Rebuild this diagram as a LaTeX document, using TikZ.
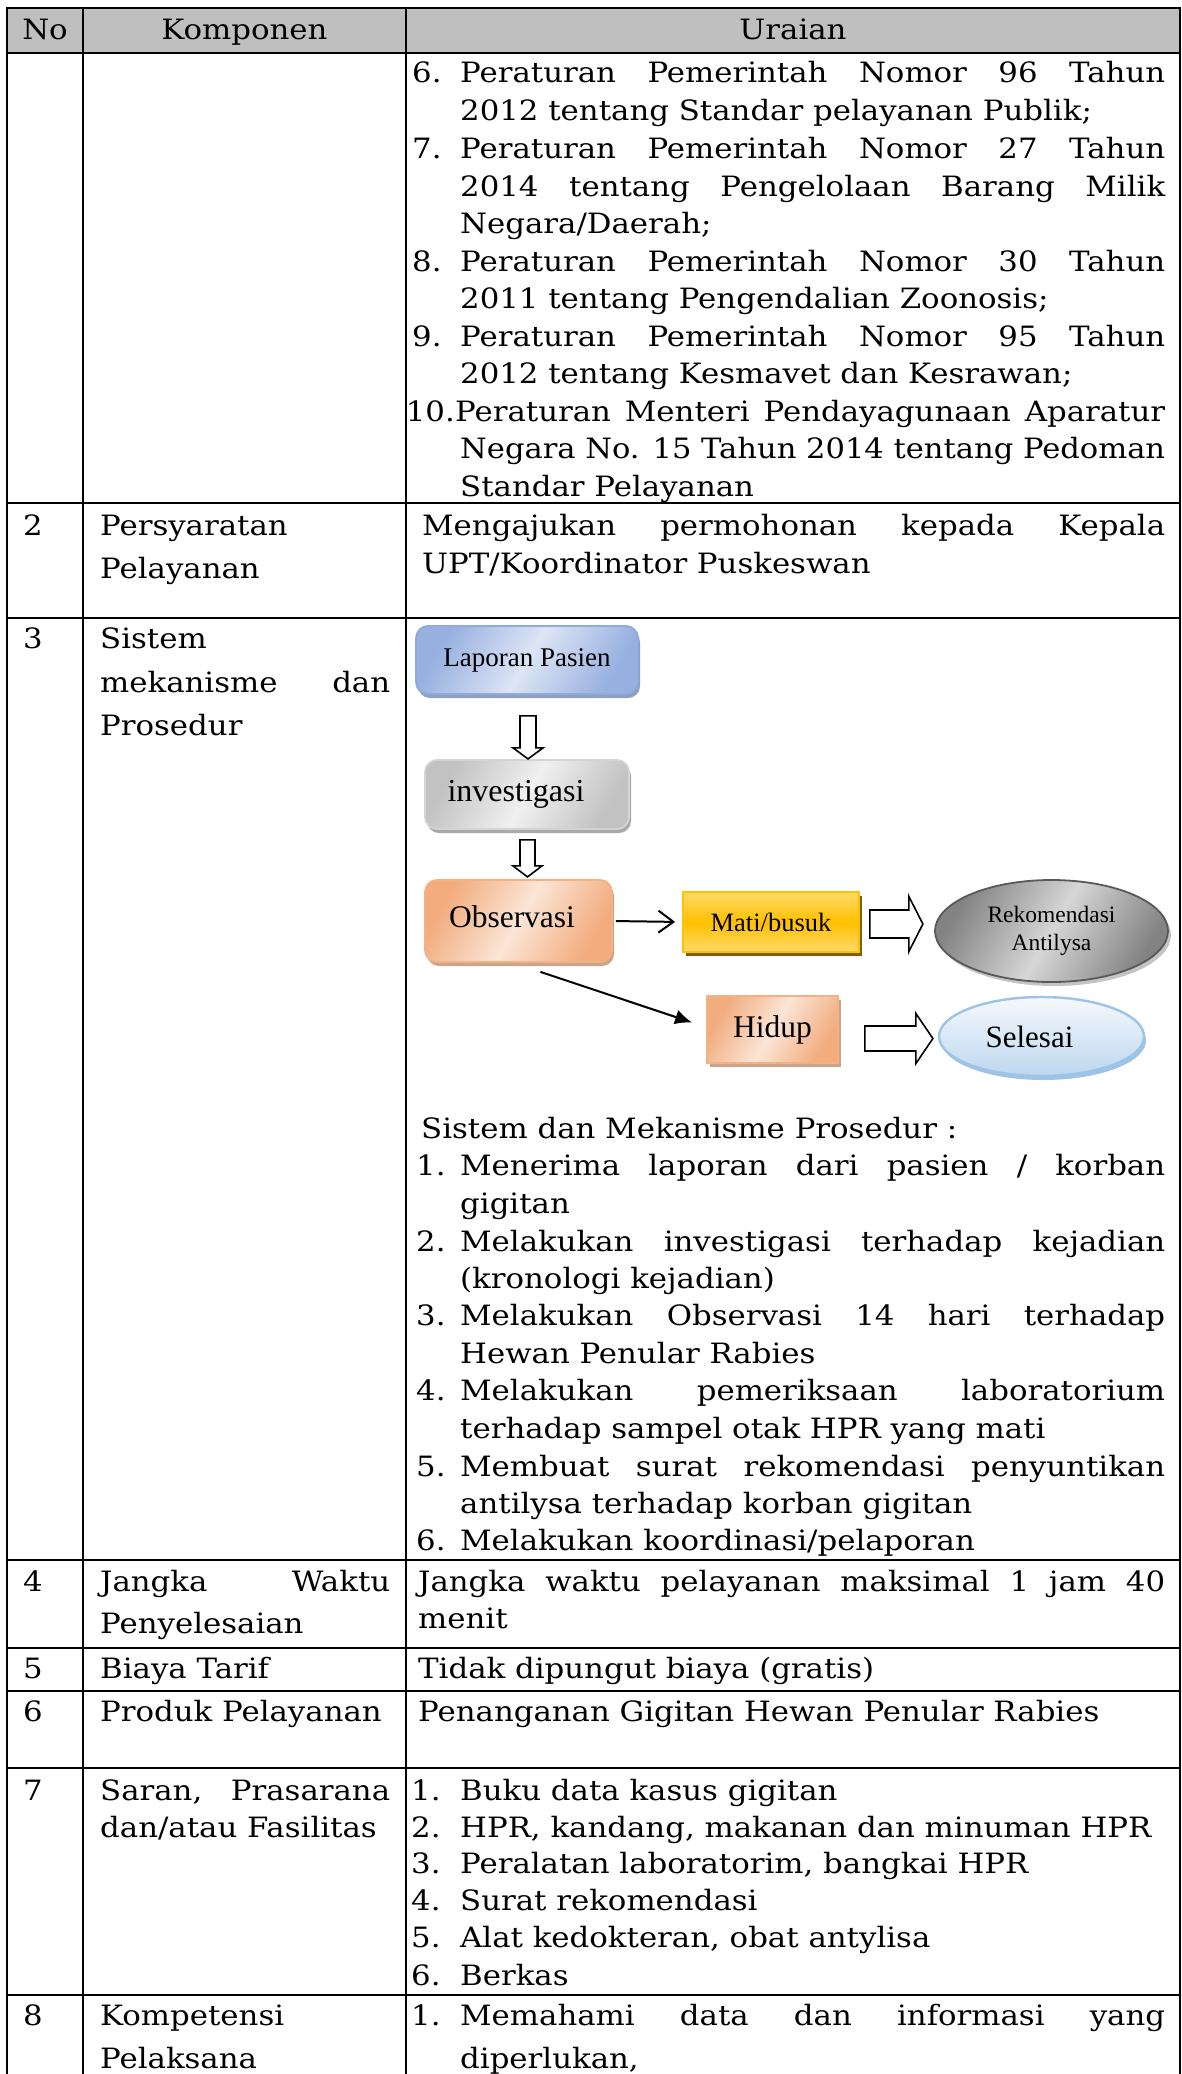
\documentclass[tikz,border=0pt]{standalone}
\usepackage{fontspec}
\usepackage{graphicx}
\usetikzlibrary{shapes.geometric,shadows,arrows.meta,calc}
\newfontfamily\bodyfont{DejaVu Serif}[FakeStretch=1.1]
\newfontfamily\boxfont{Liberation Serif}

% justified line of a given width (squeezed if the words do not fit)
\newsavebox\linebox
\newcommand\just[2]{\sbox\linebox{#2}\ifdim\wd\linebox>#1\relax\resizebox{#1}{\height}{\usebox\linebox}\else\makebox[#1][s]{#2}\fi}

\definecolor{headgray}{HTML}{BFBFBF}
\definecolor{lapedge}{HTML}{8FAADC}
\definecolor{lapdark}{HTML}{97B0E0}
\definecolor{laplight}{HTML}{DDE5F5}
\definecolor{lapshadow}{HTML}{8EA0C0}
\definecolor{invedge}{HTML}{D4D4D4}
\definecolor{invdark}{HTML}{C2C2C2}
\definecolor{invlight}{HTML}{F0F0F0}
\definecolor{invshadow}{HTML}{A9A9A9}
\definecolor{oredge}{HTML}{F4B183}
\definecolor{ordark}{HTML}{F2AC7E}
\definecolor{orlight}{HTML}{FBE5D6}
\definecolor{orshadow}{HTML}{C8A58C}
\definecolor{goldedge}{HTML}{FFC000}
\definecolor{goldtop}{HTML}{FFDA6A}
\definecolor{goldmid}{HTML}{FFC000}
\definecolor{goldshadow}{HTML}{7F6000}
\definecolor{rekedge}{HTML}{595959}
\definecolor{rekdark}{HTML}{838383}
\definecolor{reklight}{HTML}{D6D6D6}
\definecolor{rekshadow}{HTML}{C4C4C4}
\definecolor{seledge}{HTML}{9DC3E6}
\definecolor{seltop}{HTML}{F5F9FD}
\definecolor{selbottom}{HTML}{BDD7EE}

\tikzset{
  txt/.style={anchor=base west,inner sep=0pt,font=\bodyfont\fontsize{28}{34}\selectfont},
  ctxt/.style={txt,anchor=base},
  rtxt/.style={txt,anchor=base east},
  rule/.style={line width=2.8pt},
  flow/.style={draw,line width=1.8pt,inner sep=0pt,align=center},
  hollow/.style={draw,line width=1.6pt,fill=white,line join=miter},
  conn/.style={line width=2pt},
  pics/darrow/.style n args={4}{code={
    \draw[hollow] (-#1,0) -- (#1,0) -- (#1,#2) -- (#3,#2) -- (0,#4) -- (-#3,#2) -- (-#1,#2) -- cycle;}},
  pics/rarrow/.style n args={4}{code={
    \draw[hollow] (0,-#1) -- (#2,-#1) -- (#2,-#3) -- (#4,0) -- (#2,#3) -- (#2,#1) -- (0,#1) -- cycle;}}
}

\begin{document}
\begin{tikzpicture}[x=1pt,y=-1pt]
\useasboundingbox (0,0) rectangle (1182,2074);

% table frame and rules
\fill[headgray] (7,8) rectangle (1180,53);
\draw[rule] (7,2074) -- (7,8) -- (1180,8) -- (1180,2074);
\draw[rule] (83,8) -- (83,2074);
\draw[rule] (406,8) -- (406,2074);
\foreach \y in {53,503,618,1560,1648,1691,1768,1995}
  \draw[rule] (7,\y) -- (1180,\y);

% header
\node[ctxt] (hno) at (45,40) {No};
\node[ctxt] (hkomp) at (244.5,40) {Komponen};
\node[ctxt] (hur) at (793,40) {Uraian};

% row 1 (continued list of regulations)
\node[txt] (r1n6) at (412,83) {6.};
\node[txt] (r1a) at (460,83) {\just{705pt}{Peraturan Pemerintah Nomor 96 Tahun}};
\node[txt] (r1b) at (460,121) {2012 tentang Standar pelayanan Publik;};
\node[txt] (r1n7) at (412,158) {7.};
\node[txt] (r1c) at (460,158) {\just{705pt}{Peraturan Pemerintah Nomor 27 Tahun}};
\node[txt] (r1d) at (460,196) {\just{705pt}{2014 tentang Pengelolaan Barang Milik}};
\node[txt] (r1e) at (460,233) {Negara/Daerah;};
\node[txt] (r1n8) at (412,271) {8.};
\node[txt] (r1f) at (460,271) {\just{705pt}{Peraturan Pemerintah Nomor 30 Tahun}};
\node[txt] (r1g) at (460,308) {2011 tentang Pengendalian Zoonosis;};
\node[txt] (r1n9) at (412,346) {9.};
\node[txt] (r1h) at (460,346) {\just{705pt}{Peraturan Pemerintah Nomor 95 Tahun}};
\node[txt] (r1i) at (460,383) {2012 tentang Kesmavet dan Kesrawan;};
\node[rtxt] (r1n10) at (455,421) {10.};
\node[txt] (r1j) at (455,421) {\just{710pt}{Peraturan Menteri Pendayagunaan Aparatur}};
\node[txt] (r1k) at (460,458) {\just{705pt}{Negara No. 15 Tahun 2014 tentang Pedoman}};
\node[txt] (r1l) at (460,496) {Standar Pelayanan};

% row 2
\node[txt] (r2no) at (23,535) {2};
\node[txt] (r2ka) at (100,535) {Persyaratan};
\node[txt] (r2kb) at (100,578) {Pelayanan};
\node[txt] (r2a) at (422,535) {\just{743pt}{Mengajukan permohonan kepada Kepala}};
\node[txt] (r2b) at (422,573) {UPT/Koordinator Puskeswan};

% row 3
\node[txt] (r3no) at (23,648) {3};
\node[txt] (r3ka) at (100,648) {Sistem};
\node[txt] (r3kb) at (100,692) {\just{290pt}{mekanisme dan}};
\node[txt] (r3kc) at (100,735) {Prosedur};

% flowchart
\node[flow, rounded corners=12pt, draw=lapedge, left color=lapdark, right color=lapdark,
      middle color=laplight, shading angle=60,
      general shadow={fill=lapshadow, shadow xshift=2pt, shadow yshift=-4pt},
      minimum width=222pt, minimum height=68pt,
      font=\boxfont\fontsize{27}{30}\selectfont] (lap) at (527,660) {Laporan Pasien};
\node[flow, rounded corners=12pt, draw=invedge, left color=invdark, right color=invdark,
      middle color=invlight, shading angle=60,
      general shadow={fill=invshadow, shadow xshift=2pt, shadow yshift=-4pt},
      minimum width=204pt, minimum height=69pt,
      font=\boxfont\fontsize{32}{34}\selectfont] (inv) at (527,794.5) {\hspace*{-22pt}investigasi};
\node[flow, rounded corners=12pt, draw=oredge, left color=ordark, right color=ordark,
      middle color=orlight, shading angle=60,
      general shadow={fill=orshadow, shadow xshift=2pt, shadow yshift=-4pt},
      minimum width=187pt, minimum height=82pt,
      font=\boxfont\fontsize{31.5}{34}\selectfont] (obs) at (518.5,921) {\hspace*{-13pt}\raisebox{9pt}{Observasi}};
\node[flow, draw=goldedge, top color=goldtop, bottom color=goldtop, middle color=goldmid,
      general shadow={fill=goldshadow, shadow xshift=3pt, shadow yshift=-4pt},
      minimum width=176pt, minimum height=60pt,
      font=\boxfont\fontsize{26.5}{30}\selectfont] (mati) at (771,922) {Mati/busuk};
\node[flow, draw=oredge, left color=ordark, right color=ordark, middle color=orlight,
      shading angle=60,
      general shadow={fill=orshadow, shadow xshift=3pt, shadow yshift=-4pt},
      minimum width=131pt, minimum height=67pt,
      font=\boxfont\fontsize{31.5}{34}\selectfont] (hid) at (772.5,1029.5) {Hidup};
\node[flow, ellipse, draw=rekedge, left color=rekdark, right color=rekdark,
      middle color=reklight, shading angle=60,
      general shadow={fill=rekshadow, shadow xshift=3pt, shadow yshift=-4pt},
      minimum width=233pt, minimum height=102pt,
      font=\boxfont\fontsize{23.5}{28}\selectfont] (rek) at (1051.5,931) {Rekomendasi\\Antilysa};
\node[flow, ellipse, draw=seledge, line width=2.4pt, top color=seltop, bottom color=selbottom,
      general shadow={fill=seledge, shadow xshift=2pt, shadow yshift=-4pt},
      minimum width=205pt, minimum height=79pt,
      font=\boxfont\fontsize{31}{34}\selectfont] (sel) at (1041.5,1036.5) {\hspace*{-24pt}Selesai};

% connectors
\pic at ($(lap.south)+(1,21)$) {darrow={8}{32}{15}{43}};
\pic at ($(inv.south)+(0.5,10)$) {darrow={7.5}{26}{14.5}{37}};
\draw[conn, -{Straight Barb[length=15pt,width=22pt,line width=2pt]}, shorten <=3pt, shorten >=7pt]
  (obs.east) -- (mati.west);
\draw[conn, -{Latex[length=17pt,width=15pt]}]
  ($(obs.south)+(22,9)$) -- ($(hid.west)+(-14,-7)$);
\pic at ($(mati.east)+(10,2)$) {rarrow={14}{39}{27.5}{53}};
\pic at ($(hid.east)+(26,9)$) {rarrow={12.5}{51}{25}{68}};

% procedure list
\node[txt] (p0) at (421,1138) {Sistem dan Mekanisme Prosedur :};
\node[txt] (pn1) at (416,1175) {1.};
\node[txt] (p1a) at (460,1175) {\just{705pt}{Menerima laporan dari pasien / korban}};
\node[txt] (p1b) at (460,1213) {gigitan};
\node[txt] (pn2) at (416,1251) {2.};
\node[txt] (p2a) at (460,1251) {\just{705pt}{Melakukan investigasi terhadap kejadian}};
\node[txt] (p2b) at (460,1288) {(kronologi kejadian)};
\node[txt] (pn3) at (416,1325) {3.};
\node[txt] (p3a) at (460,1325) {\just{705pt}{Melakukan Observasi 14 hari terhadap}};
\node[txt] (p3b) at (460,1363) {Hewan Penular Rabies};
\node[txt] (pn4) at (416,1400) {4.};
\node[txt] (p4a) at (460,1400) {\just{705pt}{Melakukan pemeriksaan laboratorium}};
\node[txt] (p4b) at (460,1438) {terhadap sampel otak HPR yang mati};
\node[txt] (pn5) at (416,1476) {5.};
\node[txt] (p5a) at (460,1476) {\just{705pt}{Membuat surat rekomendasi penyuntikan}};
\node[txt] (p5b) at (460,1513) {antilysa terhadap korban gigitan};
\node[txt] (pn6) at (416,1550) {6.};
\node[txt] (p6a) at (460,1550) {Melakukan koordinasi/pelaporan};

% row 4
\node[txt] (r4no) at (23,1591) {4};
\node[txt] (r4ka) at (100,1591) {\just{290pt}{Jangka Waktu}};
\node[txt] (r4kb) at (100,1633) {Penyelesaian};
\node[txt] (r4a) at (418,1591) {\just{747pt}{Jangka waktu pelayanan maksimal 1 jam 40}};
\node[txt] (r4b) at (418,1628) {menit};

% row 5
\node[txt] (r5no) at (23,1678) {5};
\node[txt] (r5k) at (100,1678) {Biaya Tarif};
\node[txt] (r5a) at (418,1678) {Tidak dipungut biaya (gratis)};

% row 6
\node[txt] (r6no) at (23,1721) {6};
\node[txt] (r6k) at (100,1721) {Produk Pelayanan};
\node[txt] (r6a) at (418,1721) {Penanganan Gigitan Hewan Penular Rabies};

% row 7
\node[txt] (r7no) at (23,1800) {7};
\node[txt] (r7ka) at (100,1800) {\just{290pt}{Saran, Prasarana}};
\node[txt] (r7kb) at (100,1837) {dan/atau Fasilitas};
\node[txt] (r7n1) at (411,1800) {1.};
\node[txt] (r7a) at (460,1800) {Buku data kasus gigitan};
\node[txt] (r7n2) at (411,1837) {2.};
\node[txt] (r7b) at (460,1837) {HPR, kandang, makanan dan minuman HPR};
\node[txt] (r7n3) at (411,1873) {3.};
\node[txt] (r7c) at (460,1873) {Peralatan laboratorim, bangkai HPR};
\node[txt] (r7n4) at (411,1910) {4.};
\node[txt] (r7d) at (460,1910) {Surat rekomendasi};
\node[txt] (r7n5) at (411,1947) {5.};
\node[txt] (r7e) at (460,1947) {Alat kedokteran, obat antylisa};
\node[txt] (r7n6) at (411,1985) {6.};
\node[txt] (r7f) at (460,1985) {Berkas};

% row 8
\node[txt] (r8no) at (23,2025) {8};
\node[txt] (r8ka) at (100,2025) {Kompetensi};
\node[txt] (r8kb) at (100,2068) {Pelaksana};
\node[txt] (r8n1) at (411,2025) {1.};
\node[txt] (r8a) at (460,2025) {\just{705pt}{Memahami data dan informasi yang}};
\node[txt] (r8b) at (460,2068) {diperlukan,};
\end{tikzpicture}
\end{document}
